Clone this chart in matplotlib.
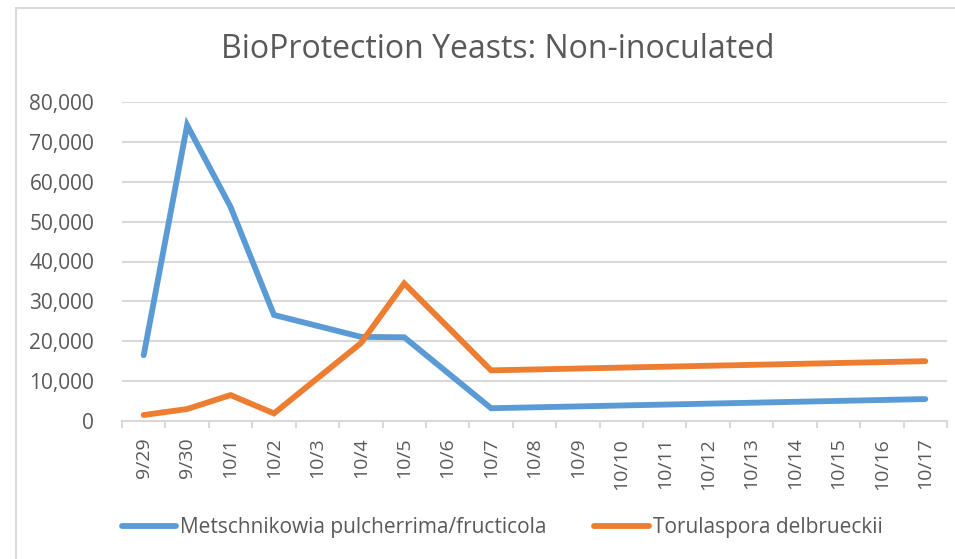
import matplotlib
matplotlib.use("Agg")
import matplotlib.pyplot as plt
from matplotlib.ticker import FuncFormatter, FixedLocator
import numpy as np

# sample dates and yeast counts (None = no sample that day)
dates = ["9/29", "9/30", "10/1", "10/2", "10/3", "10/4", "10/5", "10/6", "10/7", "10/8",
         "10/9", "10/10", "10/11", "10/12", "10/13", "10/14", "10/15", "10/16", "10/17"]
metschnikowia = [16500, 74200, 53700, 26600, None, 21100, 21000, None, 3200, None,
                 None, None, None, None, None, None, None, None, 5500]
torulaspora = [1500, 3000, 6500, 1900, None, 19500, 34500, None, 12700, None,
               None, None, None, None, None, None, None, None, 15000]

series_names = ["Metschnikowia pulcherrima/fructicola", "Torulaspora delbrueckii"]
colors = ["#5B9BD5", "#ED7D31"]

plt.rcParams["font.family"] = ["Open Sans", "DejaVu Sans"]
grey = "#595959"

fig = plt.figure(figsize=(9.55, 5.59), dpi=100)
ax = fig.add_axes([122 / 955, 1 - 421 / 559, 825 / 955, 319 / 559])

for vals, name, c in zip([metschnikowia, torulaspora], series_names, colors):
    xs = [i for i, v in enumerate(vals) if v is not None]
    ys = [v for v in vals if v is not None]
    ax.plot(xs, ys, color=c, lw=4.2, label=name, solid_capstyle="round",
            solid_joinstyle="miter", zorder=3)

ax.set_xlim(-0.5, len(dates) - 0.5)
ax.set_ylim(0, 80000)
ax.set_yticks(np.arange(0, 80001, 10000))
ax.yaxis.set_major_formatter(FuncFormatter(lambda v, p: f"{int(v):,}"))
ax.grid(axis="y", color="#d9d9d9", lw=1.5, zorder=0)

ax.set_xticks(range(len(dates)))
ax.set_xticklabels(dates, rotation=90, va="top", ha="center")
ax.xaxis.set_minor_locator(FixedLocator(np.arange(-0.5, len(dates), 1)))
ax.tick_params(axis="x", which="major", length=0, pad=12, labelsize=14, labelcolor=grey)
ax.tick_params(axis="x", which="minor", length=5, width=1.5, color="#d9d9d9")
ax.tick_params(axis="y", length=0, pad=20, labelsize=15, labelcolor=grey)

for s in ["top", "right", "left"]:
    ax.spines[s].set_visible(False)
ax.spines["bottom"].set_color("#d9d9d9")
ax.spines["bottom"].set_linewidth(1.5)

fig.text(498 / 955, 1 - 49 / 559, "BioProtection Yeasts: Non-inoculated",
         ha="center", va="center", fontsize=23, color=grey)

fig.legend(loc="center", bbox_to_anchor=(502 / 955, 1 - 528 / 559), ncol=2,
           frameon=False, fontsize=15, labelcolor=grey, handlelength=2.6,
           handletextpad=0.2, columnspacing=2.3)

# chart border (left and top edges visible in the crop)
fig.add_artist(plt.Line2D([16 / 955, 16 / 955], [0, 1 - 8 / 559], color="#d9d9d9",
                          lw=1.5, transform=fig.transFigure))
fig.add_artist(plt.Line2D([16 / 955, 1], [1 - 8 / 559, 1 - 8 / 559], color="#d9d9d9",
                          lw=1.5, transform=fig.transFigure))

fig.savefig("out.png", dpi=100)
